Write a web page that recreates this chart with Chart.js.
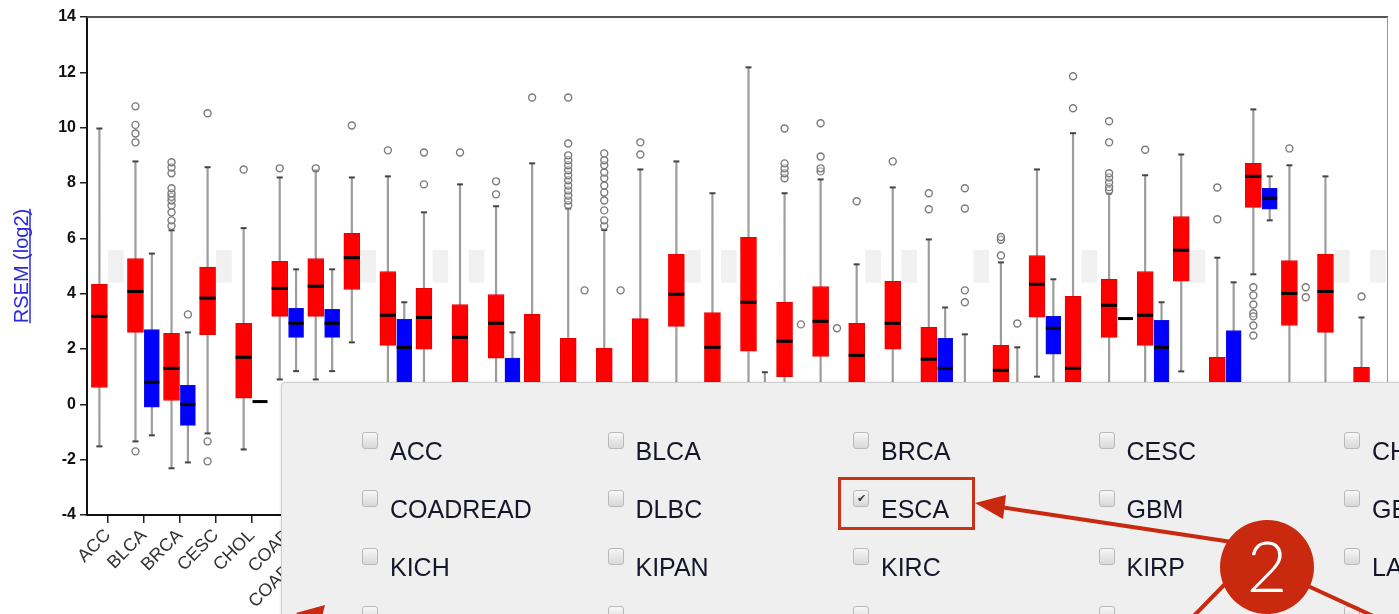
<!DOCTYPE html>
<html>
<head>
<meta charset="utf-8">
<script src="https://cdn.jsdelivr.net/npm/chart.js@4.4.1/dist/chart.umd.min.js"></script>
<style>
html, body { margin: 0; padding: 0; background: #fff; }
#wrap { position: relative; width: 1399px; height: 614px; overflow: hidden; font-family: "Liberation Sans", Arial, sans-serif; }
#chart { position: absolute; left: 0; top: 0; }
#panel { position: absolute; left: 281px; top: 382px; width: 1300px; height: 400px; background: #efefef; border: 1px solid #cfcfcf; border-radius: 4px; box-shadow: 0 0 3px rgba(0,0,0,.12); }
.cb { position: absolute; width: 14px; height: 15px; border: 1px solid #b9b9b9; border-radius: 3px; background: linear-gradient(#f7f7f7, #d8d8d8); font-size: 11px; line-height: 15px; text-align: center; color: #333; }
.lbl { position: absolute; font-size: 25px; line-height: 1; color: #16162a; white-space: nowrap; }
#hl { position: absolute; left: 838px; top: 477px; width: 137px; height: 53px; box-sizing: border-box; border: 3px solid #c9331c; }
#notes { position: absolute; left: 0; top: 0; }
</style>
</head>
<body>
<div id="wrap">
  <canvas id="chart" width="1399" height="614"></canvas>
  <div id="panel"></div>
  <div id="boxes"></div>
  <div id="hl"></div>
  <svg id="notes" width="1399" height="614">
    <g stroke="#c8290f" stroke-width="4" fill="none">
      <line x1="1232" y1="542" x2="1000" y2="507"/>
      <line x1="1226" y1="583" x2="1180" y2="630"/>
      <line x1="1308" y1="586" x2="1410" y2="633"/>
      <line x1="316" y1="618" x2="380" y2="650"/>
    </g>
    <polygon fill="#c8290f" points="975,503 1006,495 1003,519"/>
    <polygon fill="#c8290f" points="296,613 325,605 318,632"/>
    <circle cx="1267" cy="567" r="47" fill="#c8290f"/>
    <text x="1267" y="592" text-anchor="middle" font-size="70" font-weight="300" fill="#fff" font-family="Lato, 'Open Sans', sans-serif">2</text>
  </svg>
</div>
<script>
const categories = ['ACC', 'BLCA', 'BRCA', 'CESC', 'CHOL', 'COAD', 'COADREAD', 'DLBC', 'ESCA', 'GBM', 'GBMLGG', 'HNSC',
  'KICH', 'KIPAN', 'KIRC', 'KIRP', 'LAML', 'LGG', 'LIHC', 'LUAD', 'LUSC', 'MESO', 'OV', 'PAAD',
  'PCPG', 'PRAD', 'READ', 'SARC', 'SKCM', 'STAD', 'STES', 'TGCT', 'THCA', 'THYM', 'UCEC', 'UCS'];

// tumor (red) box stats
const tumorLow = [-1.52, -1.34, -2.31, -1.05, -1.63, 0.9, 0.9, 2.24, -1.2, -0.8, -2.2, -1.2,
  -2.5, -2.5, -2.5, -2.0, -1.0, -2.0, -2.0, -1.5, -1.0, -1.0, -0.5, -1.5,
  -2.5, -2.0, 1.0, -2.5, -1.0, -1.0, 1.19, -2.0, 4.7, -1.0, -1.0, -1.0];
const tumorQ1 = [0.61, 2.6, 0.14, 2.52, 0.22, 3.18, 3.18, 4.15, 2.13, 1.99, 0.5, 1.67,
  -0.5, -0.4, -0.5, -0.6, 2.82, 0.5, 1.92, 1.0, 1.73, 0.5, 1.99, 0.5,
  -1.0, 0.3, 3.15, 0.3, 2.42, 2.13, 4.45, -0.5, 7.12, 2.85, 2.6, -0.2];
const tumorMedian = [3.18, 4.08, 1.3, 3.84, 1.7, 4.19, 4.27, 5.3, 3.22, 3.14, 2.42, 2.93,
  0.5, 0.4, 0.4, 0.4, 3.98, 2.06, 3.69, 2.28, 3.0, 1.77, 2.93, 1.63,
  -0.3, 1.23, 4.34, 1.3, 3.58, 3.22, 5.57, 0.4, 8.24, 4.01, 4.08, 0.5];
const tumorQ3 = [4.34, 5.27, 2.57, 4.96, 2.93, 5.17, 5.27, 6.18, 4.8, 4.19, 3.61, 3.97,
  3.25, 2.39, 2.02, 3.1, 5.42, 3.32, 6.04, 3.69, 4.26, 2.93, 4.45, 2.78,
  0.6, 2.13, 5.38, 3.9, 4.52, 4.8, 6.79, 1.7, 8.71, 5.2, 5.42, 1.34];
const tumorHigh = [9.97, 8.78, 6.29, 8.57, 6.37, 8.2, 8.45, 8.2, 8.24, 6.94, 7.95, 7.16,
  8.71, 7.08, 6.3, 8.49, 8.78, 7.63, 12.18, 7.63, 8.13, 5.06, 7.84, 5.96,
  2.53, 5.13, 8.49, 9.8, 7.62, 8.28, 9.03, 5.3, 10.66, 8.64, 8.24, 3.14];
const tumorOutliers = [[], [9.47, 9.79, 10.1, 10.77, -1.7],
  [6.45, 6.65, 6.94, 7.19, 7.37, 7.5, 7.63, 7.81, 8.35, 8.56, 8.75], [10.52, -1.34, -2.06], [8.49],
  [8.53], [8.53], [10.08], [9.18], [7.95, 9.1], [9.1], [7.59, 8.06], [11.09],
  [7.2, 7.37, 7.55, 7.73, 7.91, 8.1, 8.28, 8.46, 8.64, 8.82, 9.0, 9.43, 11.09],
  [6.45, 6.65, 7.01, 7.37, 7.66, 7.91, 8.17, 8.38, 8.64, 8.82, 9.07], [9.03, 9.47],
  [], [], [], [8.17, 8.35, 8.53, 8.71, 9.97], [8.42, 8.53, 8.96, 10.16], [7.34], [8.78], [7.05, 7.63],
  [3.69, 4.12, 7.08, 7.81], [5.38, 5.95, 6.05], [], [10.7, 11.86],
  [7.73, 7.85, 8.02, 8.2, 8.35, 9.47, 10.23], [9.2], [], [6.69, 7.84],
  [4.23, 3.94, 3.61, 3.29, 3.18, 2.85, 2.49], [9.25], [], [3.9]];

// normal (blue) box stats, null = no normal samples
const normalLow = [null, -1.12, -2.1, null, 0.1, 1.2, 1.2, null, -0.6, null, null, -1.0,
  -1.0, -1.0, -1.0, -1.0, null, null, -0.5, -0.8, -0.8, null, null, -0.5,
  null, -0.8, 0.3, null, 3.1, -0.5, null, -1.5, 6.65, -1.5, null, null];
const normalQ1 = [null, -0.1, -0.76, null, 0.1, 2.42, 2.42, null, 0.5, null, null, 0.0,
  -0.3, -0.2, -0.2, -0.3, null, null, 0.0, -0.1, -0.1, null, null, 0.3,
  null, -0.2, 1.81, null, 3.1, 0.4, null, -0.5, 7.05, -0.8, null, null];
const normalMedian = [null, 0.8, 0.0, null, 0.1, 2.93, 2.93, null, 2.06, null, null, 0.6,
  0.2, 0.2, 0.2, 0.1, null, null, 0.3, 0.2, 0.2, null, null, 1.3,
  null, 0.2, 2.75, null, 3.1, 2.06, null, 0.5, 7.45, -0.3, null, null];
const normalQ3 = [null, 2.7, 0.69, null, 0.1, 3.47, 3.43, null, 3.07, null, null, 1.67,
  0.6, 0.6, 0.6, 0.5, null, null, 0.6, 0.5, 0.5, null, null, 2.39,
  null, 0.7, 3.18, null, 3.1, 3.04, null, 2.67, 7.81, 0.2, null, null];
const normalHigh = [null, 5.45, 2.6, null, 0.1, 4.88, 4.88, null, 3.69, null, null, 2.6,
  0.74, 0.74, 0.74, 0.74, null, null, 1.16, 0.74, 0.74, null, null, 3.5,
  null, 2.06, 4.52, null, 3.1, 3.69, null, 4.41, 8.24, 0.74, null, null];
const normalOutliers = [[], [], [3.25], [], [], [], [], [], [], [], [], [],
  [], [4.12], [4.12], [], [], [], [], [2.89], [2.75], [], [], [],
  [], [2.92], [], [], [], [], [], [], [], [3.87, 4.23], [], []];

// faint grey placeholder boxes where no normal is drawn
const placeholderCats = ['ACC', 'CESC', 'DLBC', 'GBM', 'GBMLGG', 'LAML', 'LGG', 'MESO', 'OV', 'PCPG', 'SARC', 'STES', 'UCEC', 'UCS'];
const placeholderRange = [4.41, 5.57];

const yTicks = [-4, -2, 0, 2, 4, 6, 8, 10, 12, 14];

const panelNames = [
  ['ACC', 'BLCA', 'BRCA', 'CESC', 'CHOL', 'COAD'],
  ['COADREAD', 'DLBC', 'ESCA', 'GBM', 'GBMLGG', 'HNSC'],
  ['KICH', 'KIPAN', 'KIRC', 'KIRP', 'LAML', 'LGG'],
  ['LIHC', 'LUAD', 'LUSC', 'MESO', 'OV', 'PAAD']
];
const checkedName = 'ESCA';

// checkbox panel
const boxesDiv = document.getElementById('boxes');
panelNames.forEach((row, r) => {
  row.forEach((name, c) => {
    const x = 362 + c * 245.5, y = 432 + r * 58;
    const cb = document.createElement('div');
    cb.className = 'cb';
    cb.style.left = x + 'px';
    cb.style.top = y + 'px';
    if (name === checkedName) cb.textContent = '\u2714';
    boxesDiv.appendChild(cb);
    const lb = document.createElement('div');
    lb.className = 'lbl';
    lb.style.left = (x + 28) + 'px';
    lb.style.top = (y + 7) + 'px';
    lb.textContent = name;
    boxesDiv.appendChild(lb);
  });
});

const RED_DX = -0.234, BLUE_DX = 0.22;

function boxData(q1, q3, dx) {
  return categories.map((c, i) => q1[i] === null ? null : { x: i + dx, y: [q1[i], q3[i]] }).filter(d => d);
}
function whiskerData(low, high, dx) {
  const pts = [];
  categories.forEach((c, i) => {
    if (low[i] === null) return;
    pts.push({ x: i + dx, y: low[i] }, { x: i + dx, y: high[i] }, { x: i + dx, y: null });
  });
  return pts;
}
function medianData(med, dx) {
  return categories.map((c, i) => med[i] === null ? null : { x: i + dx, y: med[i] }).filter(d => d);
}
function outlierData(out, dx) {
  const pts = [];
  out.forEach((list, i) => list.forEach(v => pts.push({ x: i + dx, y: v })));
  return pts;
}

const placeholderData = placeholderCats.map(c => ({ x: categories.indexOf(c) + BLUE_DX, y: placeholderRange }));

const framePlugin = {
  id: 'frame',
  beforeDatasetsDraw(chart) {
    const { ctx, chartArea: a } = chart;
    ctx.save();
    ctx.strokeStyle = '#555';
    ctx.lineWidth = 2;
    ctx.beginPath(); ctx.moveTo(a.left, a.top); ctx.lineTo(a.right, a.top); ctx.stroke();
    ctx.strokeStyle = '#999';
    ctx.lineWidth = 1;
    ctx.beginPath(); ctx.moveTo(a.right - 0.5, a.top); ctx.lineTo(a.right - 0.5, a.bottom); ctx.stroke();
    ctx.restore();
  },
  afterDraw(chart) {
    // underline the y axis title
    const s = chart.scales.y, t = s.options.title;
    const ctx = chart.ctx;
    ctx.save();
    ctx.font = '20px "Liberation Sans", Arial, sans-serif';
    const w = ctx.measureText(t.text).width;
    const cx = s.left + 10 + 12 + 8;
    const cy = (s.top + s.bottom) / 2;
    ctx.strokeStyle = t.color;
    ctx.lineWidth = 1.5;
    ctx.beginPath(); ctx.moveTo(cx, cy - w / 2); ctx.lineTo(cx, cy + w / 2); ctx.stroke();
    ctx.restore();
  }
};

Chart.defaults.font.family = '"Liberation Sans", Arial, sans-serif';

new Chart(document.getElementById('chart'), {
  type: 'bar',
  data: {
    datasets: [
      { type: 'scatter', data: outlierData(tumorOutliers, RED_DX), order: 1,
        pointStyle: 'circle', pointRadius: 3.5, borderColor: '#7a7a7a', backgroundColor: 'rgba(255,255,255,0.4)', borderWidth: 1.4 },
      { type: 'scatter', data: outlierData(normalOutliers, BLUE_DX), order: 1,
        pointStyle: 'circle', pointRadius: 3.5, borderColor: '#7a7a7a', backgroundColor: 'rgba(255,255,255,0.4)', borderWidth: 1.4 },
      { type: 'scatter', data: medianData(tumorMedian, RED_DX), order: 2,
        pointStyle: 'line', pointRadius: 8, borderColor: '#000', borderWidth: 3 },
      { type: 'scatter', data: medianData(normalMedian, BLUE_DX), order: 2,
        pointStyle: 'line', pointRadius: 7.5, borderColor: '#000', borderWidth: 3 },
      { type: 'bar', data: boxData(tumorQ1, tumorQ3, RED_DX), order: 3, grouped: false,
        barThickness: 16, backgroundColor: '#ff0000', borderColor: '#e60000', borderWidth: 1, borderSkipped: false },
      { type: 'bar', data: boxData(normalQ1, normalQ3, BLUE_DX), order: 3, grouped: false,
        barThickness: 15, backgroundColor: '#0000ff', borderColor: '#1010e0', borderWidth: 1, borderSkipped: false },
      { type: 'line', data: whiskerData(tumorLow, tumorHigh, RED_DX), order: 4,
        borderColor: '#9d9d9d', borderWidth: 2.2, pointStyle: 'line', pointRadius: 3,
        pointBorderColor: '#444', pointBorderWidth: 2, spanGaps: false },
      { type: 'line', data: whiskerData(normalLow, normalHigh, BLUE_DX), order: 4,
        borderColor: '#9d9d9d', borderWidth: 2.2, pointStyle: 'line', pointRadius: 3,
        pointBorderColor: '#444', pointBorderWidth: 2, spanGaps: false },
      { type: 'bar', data: placeholderData, order: 5, grouped: false,
        barThickness: 15, backgroundColor: '#f1f1f1', borderWidth: 0 }
    ]
  },
  options: {
    responsive: false,
    animation: false,
    layout: { padding: { top: 17, right: 1, left: 0, bottom: 0 } },
    plugins: { legend: { display: false }, tooltip: { enabled: false } },
    scales: {
      x: {
        type: 'linear',
        min: -0.578,
        max: 35.5,
        offset: false,
        afterBuildTicks: s => { s.ticks = categories.map((c, i) => ({ value: i })); },
        afterFit: s => { s.height = 99; },
        ticks: {
          autoSkip: false,
          minRotation: 45,
          maxRotation: 45,
          padding: 2,
          color: '#333',
          font: { size: 18 },
          callback: v => categories[v]
        },
        grid: { display: true, drawOnChartArea: false, drawTicks: true, tickLength: 8, color: '#222', lineWidth: 1.5, offset: false },
        border: { display: true, color: '#111', width: 2 }
      },
      y: {
        min: -4,
        max: 14,
        afterBuildTicks: s => { s.ticks = yTicks.map(v => ({ value: v })); },
        afterFit: s => { s.width = 87; },
        ticks: { color: '#111', padding: 4, font: { size: 16, weight: 'bold' } },
        grid: { display: true, drawOnChartArea: false, drawTicks: true, tickLength: 7, color: '#222', lineWidth: 1.5 },
        border: { display: true, color: '#111', width: 2 },
        title: { display: true, text: 'RSEM (log2)', color: '#2a2ae0', font: { size: 20 }, padding: { top: 10, bottom: 0 } }
      }
    }
  },
  plugins: [framePlugin]
});
</script>
</body>
</html>
